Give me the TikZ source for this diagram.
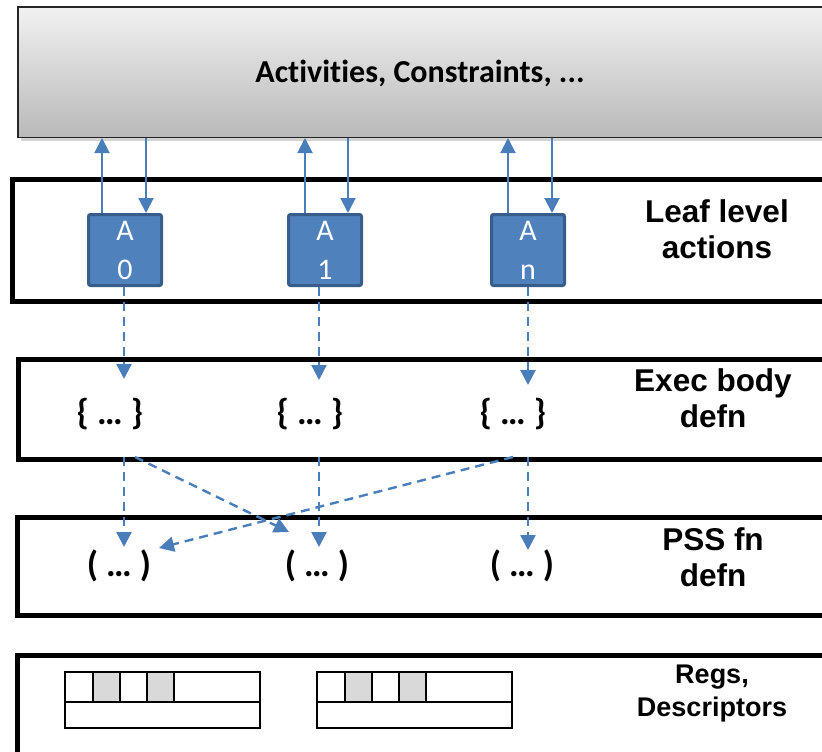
\documentclass[tikz,border=0pt]{standalone}
\usepackage{fontspec}
\setmainfont{Liberation Sans}
\newfontfamily\calib[Ligatures=NoCommon]{Carlito}
\usepackage{xcolor}
\usetikzlibrary{arrows.meta,positioning,shadows}
\definecolor{actfill}{RGB}{79,129,189}
\definecolor{actedge}{RGB}{56,93,138}
\definecolor{link}{RGB}{74,126,187}
\definecolor{cell}{RGB}{217,217,217}

\begin{document}
\begin{tikzpicture}[x=1pt, y=-1pt,
      layer/.style={draw=black, line width=5pt, anchor=north west, inner sep=0pt, minimum width=830pt},
      action/.style={draw=actedge, fill=actfill, line width=3pt, rounded corners=2pt,
        minimum width=73pt, minimum height=71pt, inner sep=0pt, text=white, align=center,
        font=\calib\fontsize{30}{39}\selectfont},
      lbl/.style={align=center, font=\bfseries\fontsize{31.5}{36}\selectfont},
      body/.style={anchor=base, font=\calib\bfseries\fontsize{36}{40}\selectfont},
      arr/.style={-{Triangle[length=15pt, width=15pt]}, line width=2pt, color=link},
      darr/.style={arr, line width=2.4pt, dash pattern=on 9pt off 6pt}
    ]
      \useasboundingbox (0,0) rectangle (822,752);
      \clip (0,0) rectangle (822,752);
      % top band
      \node[draw=black!85, line width=1.5pt, anchor=north west, minimum width=830pt, minimum height=130pt,
        top color=gray!11, bottom color=gray!55,
        drop shadow={shadow xshift=3pt, shadow yshift=-4pt, opacity=0.35}] (acts) at (17,6.5) {};
      \node[anchor=base, font=\calib\bfseries\fontsize{32}{38}\selectfont] (actstext) at (420,83)
        {Activities, Constraints, ...};
      % layers
      \node[layer, minimum height=122pt] (leaf) at (9.5,177) {};
      \node[layer, minimum height=100pt] (exec) at (16,357) {};
      \node[layer, minimum height=98pt] (pss) at (15,515) {};
      \node[layer, minimum height=100pt] (regs) at (15,653) {};
      \node[lbl] (leaflbl) at (717,229) {Leaf level\\actions};
      \node[lbl] (execlbl) at (713,398) {Exec body\\defn};
      \node[lbl] (psslbl) at (713,557) {PSS fn\\defn};
      \node[lbl, font=\bfseries\fontsize{27}{33}\selectfont] (regslbl) at (712,694) {Regs,\\Descriptors};
      % leaf actions
      \node[action] (A0) at (125,250) {A\\0};
      \node[action] (A1) at (325,250) {A\\1};
      \node[action] (An) at (528,250) {A\\n};
      \foreach \a/\u/\d in {A0/-23/21, A1/-20/23, An/-20/24} {
        \draw[arr] ([xshift=\u pt]\a.north) -- ([xshift=\u pt]\a.north |- acts.south);
        \draw[arr] ([xshift=\d pt]\a.north |- acts.south) -- ([xshift=\d pt]\a.north);
      }
      % exec bodies
      \node[body] (E0) at (110,424) {\{ … \}};
      \node[body] (E1) at (310,424) {\{ … \}};
      \node[body] (En) at (513,424) {\{ … \}};
      \coordinate (tE0) at (124,379);
      \coordinate (tE1) at (319,380);
      \coordinate (tEn) at (528,385);
      \draw[darr] ([xshift=-1pt]A0.south) -- (tE0);
      \draw[darr] ([xshift=-6pt]A1.south) -- (tE1);
      \draw[darr] (An.south) -- (tEn);
      % pss functions
      \node[body] (F0) at (119,576) {( … )};
      \node[body] (F1) at (317,576) {( … )};
      \node[body] (Fn) at (522,576) {( … )};
      \coordinate (sF0) at (124,457);
      \coordinate (sF1) at (319,457);
      \coordinate (sFn) at (528,457);
      \coordinate (sX0) at (135,457);
      \coordinate (sXn) at (513,457);
      \coordinate (tF0) at (124,547);
      \coordinate (tF1) at (319,547);
      \coordinate (tFn) at (528,550);
      \coordinate (tX1) at (289,532);
      \coordinate (tX0) at (159,548);
      \draw[darr] (sF0) -- (tF0);
      \draw[darr] (sF1) -- (tF1);
      \draw[darr] (sFn) -- (tFn);
      \draw[darr] (sX0) -- (tX1);
      \draw[darr] (sXn) -- (tX0);
      % registers
      \foreach \x in {65,317} {
        \fill[cell] (\x+28,672) rectangle (\x+55,702);
        \fill[cell] (\x+82,672) rectangle (\x+109,702);
        \draw[line width=1.5pt] (\x,672) rectangle (\x+195,728);
        \draw[line width=1.5pt] (\x,702) -- (\x+195,702);
        \foreach \c in {28,55,82,109}
          \draw[line width=1.5pt] (\x+\c,672) -- (\x+\c,702);
      }
    \end{tikzpicture}
\end{document}
